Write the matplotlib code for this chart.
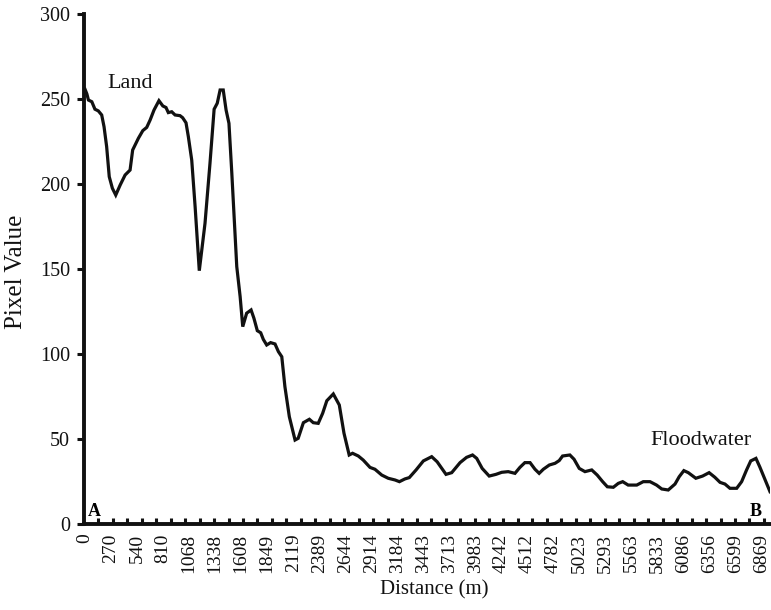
import numpy as np
import matplotlib.pyplot as plt

plt.rcParams["font.family"] = ["Liberation Serif", "DejaVu Serif"]

# profile A -> B, x = sample index along the transect (10 samples per labelled step)
sample = [0, 0.7, 1.3, 2.6, 3.8, 5.1, 6.4, 7.3, 8.3, 9.3, 10.5, 11.8, 13.5, 15.4,
          17.3, 18.3, 20.5, 22.2, 23.7, 25.0, 26.5, 28.4, 29.9, 31.1, 32.0, 33.3,
          34.6, 36.5, 37.5, 38.8, 39.7, 41.0, 42.3, 43.9, 46.1, 48.0, 49.6, 50.8,
          51.9, 53.1, 54.2, 55.3, 56.4, 58.3, 59.6, 60.6, 62.1, 63.8, 64.9, 66.2,
          67.5, 68.5, 69.8, 71.3, 73.0, 74.3, 75.6, 76.8, 78.5, 80.7, 81.9, 83.9,
          86.2, 87.7, 89.6, 91.3, 92.9, 95.4, 97.7, 99.5, 101.5, 102.8, 105.0,
          106.9, 109.5, 111.4, 114.0, 116.5, 119.1, 120.8, 122.9, 124.6, 127.2,
          130.0, 133.2, 135.3, 138.7, 140.9, 144.1, 146.6, 148.9, 150.5, 152.6,
          155.3, 157.9, 160.1, 162.6, 165.2, 167.1, 169.0, 171.0, 172.9, 174.5,
          176.1, 178.4, 180.6, 182.2, 183.5, 186.3, 187.9, 189.9, 192.1, 194.7,
          196.8, 198.9, 200.7, 203.0, 204.9, 206.6, 208.7, 212.0, 214.5, 217.1,
          219.6, 221.6, 224.1, 226.7, 228.3, 230.1, 231.8, 234.7, 237.3, 239.8,
          242.0, 244.0, 245.9, 247.8, 250.4, 252.3, 254.2, 255.8, 257.8, 259.3,
          261.6, 263.2]
pixel = [255.7, 253, 249.4, 248.4, 244, 243, 240.6, 233.7, 222, 204.3, 197.5,
         193.5, 199.4, 205.3, 208.2, 220, 226.9, 231.4, 233.3, 237.6, 243.5, 249,
         245.9, 245, 242, 242.5, 240.6, 240.2, 239, 236, 227.8, 214, 186.6, 149,
         176.9, 212, 244, 247.5, 255.3, 255.3, 243.5, 235.7, 206.3, 151.4, 133.7,
         116.1, 124, 125.9, 121, 113.7, 112.5, 108.6, 105.3, 106.7, 105.9, 101.4,
         98.4, 80.8, 63.1, 49.4, 50.4, 59.6, 61.6, 59.6, 59.2, 65.1, 72.5, 76.5,
         70, 53.4, 40.6, 41.6, 40, 37.6, 33.3, 32.2, 28.8, 26.9, 25.9, 24.9, 26.5,
         27.3, 31.8, 37.1, 39.6, 36.6, 29.2, 30.2, 36.1, 39.2, 40.6, 38.6, 32.7,
         28.2, 29.2, 30.4, 30.8, 29.8, 33.3, 36.1, 36.1, 32.2, 29.8, 32.2, 34.7,
         35.7, 37.3, 40, 40.6, 38.1, 32.7, 30.8, 31.8, 28.8, 24.9, 21.9, 21.6,
         23.9, 24.9, 22.9, 22.9, 24.9, 24.9, 22.9, 20.6, 20, 23.5, 27.8, 31.4,
         30.2, 26.9, 28.2, 30.2, 27.5, 24.5, 23.5, 21, 21, 24.9, 31.8, 37.1, 38.6,
         33.5, 24.9, 19]

tick_pos = list(range(0, 261, 10))
tick_labels = ["0", "270", "540", "810", "1068", "1338", "1608", "1849", "2119",
               "2389", "2644", "2914", "3184", "3443", "3713", "3983", "4242",
               "4512", "4782", "5023", "5293", "5563", "5833", "6086", "6356",
               "6599", "6869"]

fig = plt.figure(figsize=(7.71, 6.10), dpi=100)
ax = fig.add_axes([84 / 771, 86 / 610, 686 / 771, 510 / 610])

ax.plot(sample, pixel, color="#111111", lw=2.3, solid_joinstyle="miter")

ax.set_xlim(-0.4, 263.2)
ax.set_ylim(0, 300)

for s in ["top", "right"]:
    ax.spines[s].set_visible(False)
for s in ["left", "bottom"]:
    ax.spines[s].set_linewidth(2.8)
    ax.spines[s].set_color("#111111")

ax.set_yticks(range(0, 301, 50))
ax.tick_params(axis="y", direction="out", length=5, width=2.2, pad=5,
               labelsize=14.5, colors="#111111")

ax.set_xticks(tick_pos)
ax.set_xticklabels(tick_labels, rotation=90)
ax.tick_params(axis="x", which="major", length=0, pad=7, labelsize=14,
               colors="#111111")
ax.set_xticks(np.arange(5.1, 263, 5.56), minor=True)
ax.tick_params(axis="x", which="minor", direction="in", length=4.5, width=2.2,
               color="#111111")

fig.text(16 / 771, 1 - 272 / 610, "Pixel Value", rotation=90, ha="center",
         va="center", fontsize=18, color="#111111")
fig.text(434 / 771, 1 - 590 / 610, "Distance (m)", ha="center", va="center",
         fontsize=15, color="#111111")

ax.text(8.5, 256.5, "Land", fontsize=16, va="baseline", color="#111111")
ax.text(217.1, 46.5, "Floodwater", fontsize=16, va="baseline", color="#111111")
ax.text(1.2, 4.7, "A", fontsize=13, fontweight="bold", va="baseline")
ax.text(255.5, 4.7, "B", fontsize=13, fontweight="bold", va="baseline")

fig.savefig("out.png", dpi=100)
